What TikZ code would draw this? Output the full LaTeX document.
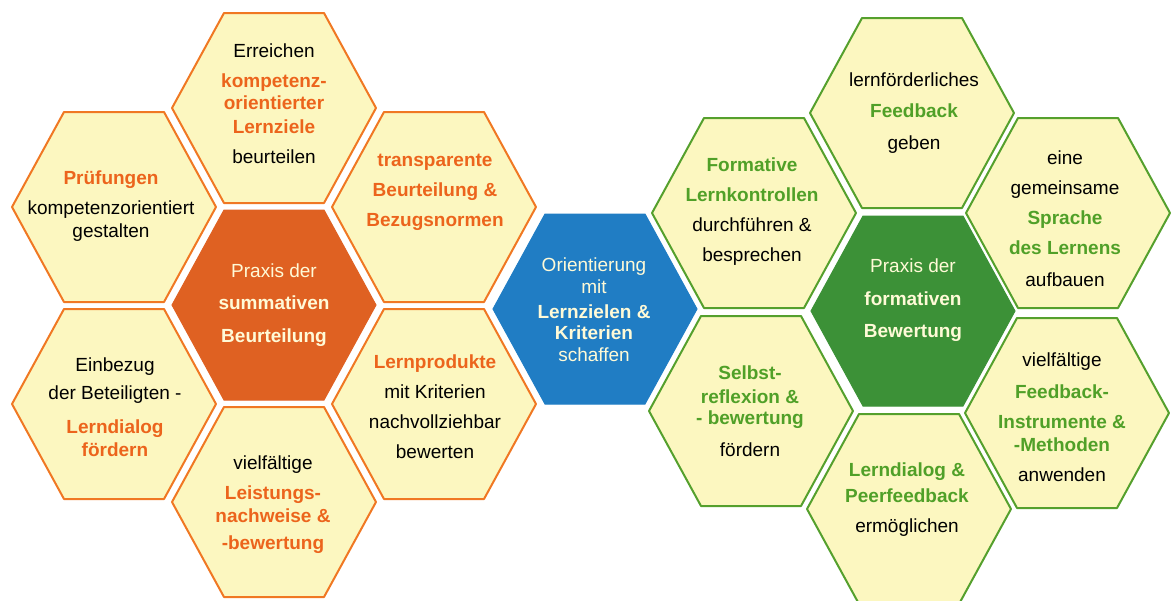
\documentclass[tikz,border=0pt]{standalone}
\usepackage{fontspec}
\setmainfont{Liberation Sans}
\usepackage{tikz}

\definecolor{cellfill}{RGB}{252,247,192}
\definecolor{sumline}{RGB}{240,120,35}
\definecolor{sumcore}{RGB}{223,97,34}
\definecolor{sumtext}{RGB}{236,100,28}
\definecolor{bluecore}{RGB}{32,125,196}
\definecolor{formline}{RGB}{85,160,45}
\definecolor{formcore}{RGB}{60,145,55}
\definecolor{formtext}{RGB}{80,160,40}
\definecolor{coretext}{RGB}{255,250,215}

% key words inside the cells
\newcommand{\sumterm}[1]{{\bfseries\color{sumtext}#1}}
\newcommand{\formterm}[1]{{\bfseries\color{formtext}#1}}

% one flat-topped honeycomb cell
\tikzset{
    hexa/.pic={
        \path[pic actions] (-102,0) -- (-50,-95) -- (50,-95) -- (102,0)
            -- (50,95) -- (-50,95) -- cycle;
    }
}

\begin{document}
\begin{tikzpicture}[
    x=0.5pt, y=-0.5pt,
    font=\fontsize{9.5}{15}\selectfont,
    cell/.style={
        fill=cellfill,
        line width=1pt,
        line join=round
    },
    sumcell/.style={
        cell,
        draw=sumline
    },
    formcell/.style={
        cell,
        draw=formline
    },
    celltext/.style={
        align=center,
        inner sep=0pt,
        text=black
    },
    coretext/.style={
        celltext,
        text=coretext
    }
]

\useasboundingbox (0,0) rectangle (1173,600);

% summative cluster
\foreach \cx/\cy in {274/108, 114/207, 434/207, 114/404, 434/404, 274/502}
    \pic[sumcell] at (\cx,\cy) {hexa};

% formative cluster
\foreach \cx/\cy in {912/113, 754/213, 1068/213, 751/411, 1067/413, 909/509}
    \pic[formcell] at (\cx,\cy) {hexa};

% the three centre cells
\foreach \cx/\cy/\col in {274/305/sumcore, 595/309/bluecore, 913/311/formcore}
    \pic[fill=\col, draw=\col, line width=0.5pt] at (\cx,\cy) {hexa};

\node[coretext] (summative) at (274,305) {
    Praxis der\\[1pt]
    \textbf{summativen}\\[1.5pt]
    \textbf{Beurteilung}
};

\node[celltext] (reach) at (274,104) {
    Erreichen\\
    \sumterm{kompetenz-}\\[-4pt]
    \sumterm{orientierter}\\[-3pt]
    \sumterm{Lernziele}\\
    beurteilen
};

\node[celltext] (exams) at (111,206) {
    \sumterm{Prüfungen}\\
    kompetenzorientiert\\[-3.5pt]
    gestalten
};

\node[celltext] (norms) at (435,192) {
    \sumterm{transparente}\\
    \sumterm{Beurteilung \&}\\
    \sumterm{Bezugsnormen}
};

\node[celltext] (involve) at (115,407) {
    Einbezug\\[-1pt]
    der Beteiligten -\\[2pt]
    \sumterm{Lerndialog}\\[-3.5pt]
    \sumterm{fördern}
};

\node[celltext] (products) at (435,407) {
    \sumterm{Lernprodukte}\\
    mit Kriterien\\
    nachvollziehbar\\
    bewerten
};

\node[celltext] (records) at (273,505) {
    vielfältige\\
    \sumterm{Leistungs-}\\[-3.5pt]
    \sumterm{nachweise \&}\\[-1.5pt]
    \sumterm{-bewertung}
};

\node[coretext] (goals) at (594,310) {
    Orientierung\\[-4pt]
    mit\\[-2.5pt]
    \textbf{Lernzielen \&}\\[-4.5pt]
    \textbf{Kriterien}\\[-4pt]
    schaffen
};

\node[coretext] (formative) at (913,300) {
    Praxis der\\[1.5pt]
    \textbf{formativen}\\[1pt]
    \textbf{Bewertung}
};

\node[celltext] (feedback) at (914,113) {
    lernförderliches\\[0.5pt]
    \formterm{Feedback}\\[1pt]
    geben
};

\node[celltext] (checks) at (752,212) {
    \formterm{Formative}\\
    \formterm{Lernkontrollen}\\
    durchführen \&\\
    besprechen
};

\node[celltext] (language) at (1065,219) {
    eine\\
    gemeinsame\\
    \formterm{Sprache}\\
    \formterm{des Lernens}\\[1pt]
    aufbauen
};

\node[celltext] (selfcheck) at (750,411) {
    \formterm{Selbst-}\\[-3pt]
    \formterm{reflexion \&}\\[-4.5pt]
    \formterm{- bewertung}\\[1pt]
    fördern
};

\node[celltext] (tools) at (1062,417) {
    vielfältige\\[1pt]
    \formterm{Feedback-}\\
    \formterm{Instrumente \&}\\[-3.5pt]
    \formterm{-Methoden}\\
    anwenden
};

\node[celltext] (dialog) at (907,500) {
    \formterm{Lerndialog \&}\\[-2pt]
    \formterm{Peerfeedback}\\
    ermöglichen
};

\end{tikzpicture}
\end{document}
